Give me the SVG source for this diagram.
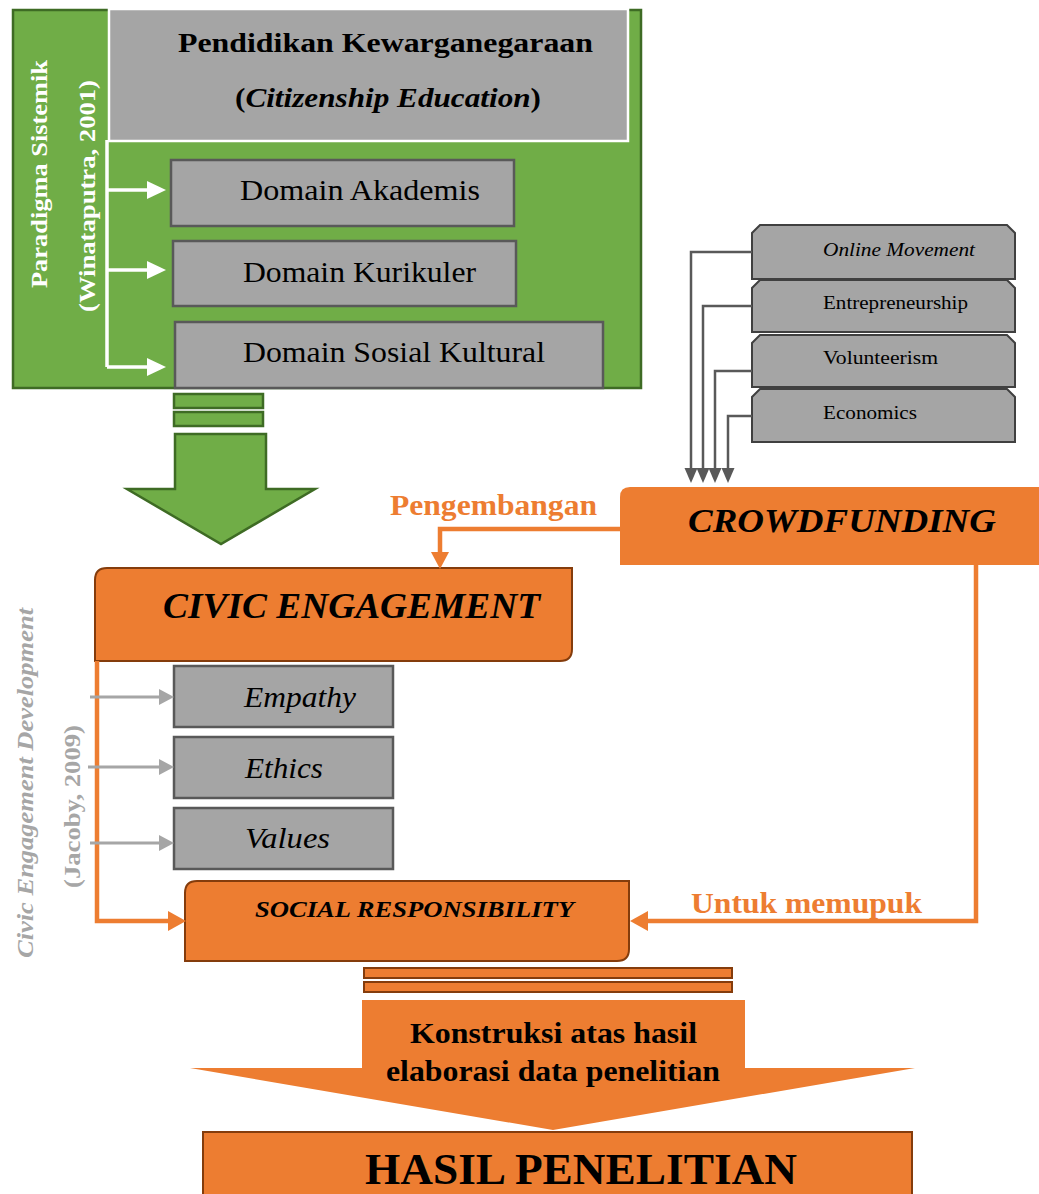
<svg xmlns="http://www.w3.org/2000/svg" width="1039" height="1194" viewBox="0 0 1039 1194">
<defs>
<style>
text{font-family:"Liberation Serif","Times New Roman",serif;}
.b{font-weight:bold;}
.i{font-style:italic;}
.grayBox{fill:#a5a5a5;stroke:#595959;stroke-width:2.5;}
.tab{fill:#a5a5a5;stroke:#404040;stroke-width:2;}
.orange{fill:#ed7d31;stroke:#843c0c;stroke-width:2;}
.green{fill:#70ad47;stroke:#3e6b24;stroke-width:2.5;}
.wline{stroke:#ffffff;stroke-width:3.5;fill:none;}
.dline{stroke:#595959;stroke-width:2.5;fill:none;}
.oline{stroke:#ed7d31;stroke-width:4.5;fill:none;}
.gline{stroke:#a6a6a6;stroke-width:3;fill:none;}
</style>
</defs>
<rect width="1039" height="1194" fill="#ffffff"/>

<!-- Green panel -->
<g id="paradigma">
<rect class="green" x="13" y="10" width="628" height="378"/>
<text class="b" font-size="24" fill="#ffffff" transform="translate(47,288) rotate(-90)" textLength="228" lengthAdjust="spacingAndGlyphs">Paradigma Sistemik</text>
<text class="b" font-size="24" fill="#ffffff" transform="translate(95,312) rotate(-90)" textLength="232" lengthAdjust="spacingAndGlyphs">(Winataputra, 2001)</text>
</g>
<g id="pkn">
<rect x="109" y="9" width="519" height="132" fill="#a5a5a5" stroke="#ffffff" stroke-width="2.5"/>
<text class="b" font-size="28" x="178" y="52" textLength="415" lengthAdjust="spacingAndGlyphs">Pendidikan Kewarganegaraan</text>
<text class="b" font-size="28" x="235" y="107" textLength="306" lengthAdjust="spacingAndGlyphs">(<tspan class="i">Citizenship Education</tspan>)</text>
</g>
<g id="domain-akademis">
<rect class="grayBox" x="171" y="160" width="343" height="66"/>
<text font-size="30" x="240" y="200" textLength="240" lengthAdjust="spacingAndGlyphs">Domain Akademis</text>
</g>
<g id="domain-kurikuler">
<rect class="grayBox" x="173" y="241" width="343" height="65"/>
<text font-size="30" x="243" y="282" textLength="233" lengthAdjust="spacingAndGlyphs">Domain Kurikuler</text>
</g>
<g id="domain-sosial">
<rect class="grayBox" x="175" y="322" width="428" height="66"/>
<text font-size="30" x="243" y="362" textLength="302" lengthAdjust="spacingAndGlyphs">Domain Sosial Kultural</text>
</g>

<!-- Green down arrow -->
<g id="green-arrow">
<rect class="green" x="174" y="394" width="89" height="14" stroke-width="2"/>
<rect class="green" x="174" y="412" width="89" height="14" stroke-width="2"/>
<polygon class="green" points="175,434 266,434 266,489 315,489 221,544 127,489 175,489"/>
</g>

<!-- Right tabs -->
<g id="online-movement">
<path class="tab" d="M752,279 L752,233 L760,225 L1007,225 L1015,233 L1015,279 Z"/>
<text class="i" font-size="18" x="823" y="256" textLength="152" lengthAdjust="spacingAndGlyphs">Online Movement</text>
</g>
<g id="entrepreneurship">
<path class="tab" d="M752,332 L752,288 L760,280 L1007,280 L1015,288 L1015,332 Z"/>
<text font-size="18" x="823" y="309" textLength="145" lengthAdjust="spacingAndGlyphs">Entrepreneurship</text>
</g>
<g id="volunteerism">
<path class="tab" d="M752,387 L752,343 L760,335 L1007,335 L1015,343 L1015,387 Z"/>
<text font-size="18" x="823" y="364" textLength="115" lengthAdjust="spacingAndGlyphs">Volunteerism</text>
</g>
<g id="economics">
<path class="tab" d="M752,442 L752,397 L760,389 L1007,389 L1015,397 L1015,442 Z"/>
<text font-size="18" x="823" y="419" textLength="94" lengthAdjust="spacingAndGlyphs">Economics</text>
</g>

<!-- Crowdfunding -->
<g id="crowdfunding">
<path d="M620,565 L620,497 Q620,487 630,487 L1039,487 L1039,565 Z" fill="#ed7d31"/>
<text class="b i" font-size="34" x="688" y="532" textLength="308" lengthAdjust="spacingAndGlyphs">CROWDFUNDING</text>
</g>

<!-- Civic engagement -->
<g id="civic-engagement">
<path class="orange" d="M95,661 L95,580 Q95,568 107,568 L572,568 L572,649 Q572,661 560,661 Z"/>
<text class="b i" font-size="36" x="163" y="618" textLength="377" lengthAdjust="spacingAndGlyphs">CIVIC ENGAGEMENT</text>
</g>
<g id="side-label">
<text class="b i" font-size="24" fill="#a6a6a6" transform="translate(33,958) rotate(-90)" textLength="350" lengthAdjust="spacingAndGlyphs">Civic Engagement Development</text>
<text class="b" font-size="24" fill="#a6a6a6" transform="translate(80,888) rotate(-90)" textLength="163" lengthAdjust="spacingAndGlyphs">(Jacoby, 2009)</text>
</g>
<g id="empathy">
<rect class="grayBox" x="174" y="666" width="219" height="61"/>
<text class="i" font-size="30" x="244" y="707" textLength="112" lengthAdjust="spacingAndGlyphs">Empathy</text>
</g>
<g id="ethics">
<rect class="grayBox" x="174" y="737" width="219" height="61"/>
<text class="i" font-size="30" x="245" y="778" textLength="78" lengthAdjust="spacingAndGlyphs">Ethics</text>
</g>
<g id="values">
<rect class="grayBox" x="174" y="808" width="219" height="61"/>
<text class="i" font-size="30" x="245" y="848" textLength="85" lengthAdjust="spacingAndGlyphs">Values</text>
</g>
<g id="social-responsibility">
<path class="orange" d="M185,961 L185,893 Q185,881 197,881 L629,881 L629,949 Q629,961 617,961 Z"/>
<text class="b i" font-size="24" x="255" y="917" textLength="319" lengthAdjust="spacingAndGlyphs">SOCIAL RESPONSIBILITY</text>
</g>

<!-- Bottom -->
<g id="konstruksi">
<rect class="orange" x="364" y="968" width="368" height="10" stroke-width="1.5"/>
<rect class="orange" x="364" y="982" width="368" height="10" stroke-width="1.5"/>
<polygon fill="#ed7d31" points="362,1000 745,1000 745,1068 915,1068 553,1130 190,1068 362,1068"/>
<text class="b" font-size="30" x="410" y="1043" textLength="287" lengthAdjust="spacingAndGlyphs">Konstruksi atas hasil</text>
<text class="b" font-size="30" x="386" y="1081" textLength="334" lengthAdjust="spacingAndGlyphs">elaborasi data penelitian</text>
</g>
<g id="hasil">
<rect class="orange" x="203" y="1132" width="709" height="70"/>
<text class="b" font-size="44" x="365" y="1184" textLength="432" lengthAdjust="spacingAndGlyphs">HASIL PENELITIAN</text>
</g>

<!-- Connectors -->
<g id="connectors">
<!-- white branches -->
<path class="wline" d="M107,140 L107,367 M107,190 L150,190 M107,270 L150,270 M107,367 L150,367"/>
<polygon fill="#ffffff" points="147,181 166,190 147,199"/>
<polygon fill="#ffffff" points="147,261 166,270 147,279"/>
<polygon fill="#ffffff" points="147,358 166,367 147,376"/>
<!-- dark gray lines from tabs -->
<path class="dline" d="M752,252 L691,252 L691,470 M752,306 L703,306 L703,470 M752,371 L715,371 L715,470 M752,416 L728,416 L728,470"/>
<polygon fill="#595959" points="684.5,468 697.5,468 691,483"/>
<polygon fill="#595959" points="696.5,468 709.5,468 703,483"/>
<polygon fill="#595959" points="708.5,468 721.5,468 715,483"/>
<polygon fill="#595959" points="721.5,468 734.5,468 728,483"/>
<!-- orange connectors -->
<path class="oline" d="M620,529 L440,529 L440,555"/>
<polygon fill="#ed7d31" points="431,552 449,552 440,569"/>
<text class="b" font-size="30" fill="#ed7d31" x="390" y="515" textLength="207" lengthAdjust="spacingAndGlyphs">Pengembangan</text>
<path class="oline" d="M976,565 L976,921 L645,921"/>
<polygon fill="#ed7d31" points="648,911 648,931 630,921"/>
<text class="b" font-size="30" fill="#ed7d31" x="691" y="913" textLength="231" lengthAdjust="spacingAndGlyphs">Untuk memupuk</text>
<path class="oline" d="M97,661 L97,921 L170,921"/>
<polygon fill="#ed7d31" points="168,911 168,931 186,921"/>
<!-- gray arrows -->
<path class="gline" d="M90,697 L162,697 M88,767 L162,767 M90,843 L162,843"/>
<polygon fill="#a6a6a6" points="159,689 159,705 174,697"/>
<polygon fill="#a6a6a6" points="159,759 159,775 174,767"/>
<polygon fill="#a6a6a6" points="159,835 159,851 174,843"/>
</g>
</svg>
